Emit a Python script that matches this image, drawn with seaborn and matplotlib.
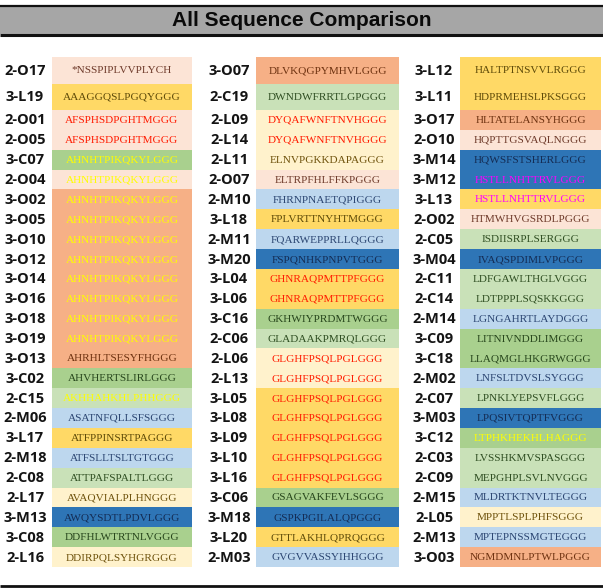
import numpy as np
import pandas as pd
import matplotlib
matplotlib.use("Agg")
import matplotlib.pyplot as plt
import seaborn as sns
from matplotlib.patches import Rectangle

# ---------------- data ----------------
col1_labels = ["2-O17", "3-L19", "2-O01", "2-O05", "3-C07", "2-O04", "3-O02", "3-O05", "3-O10",
               "3-O12", "3-O14", "3-O16", "3-O18", "3-O19", "3-O13", "3-C02", "2-C15", "2-M06",
               "3-L17", "2-M18", "2-C08", "2-L17", "3-M13", "3-C08", "2-L16"]
col1_seqs = ["*NSSPIPLVVPLYCH", "AAAGGQSLPGQYGGG", "AFSPHSDPGHTMGGG", "AFSPHSDPGHTMGGG",
             "AHNHTPIKQKYLGGG", "AHNHTPIKQKYLGGG", "AHNHTPIKQKYLGGG", "AHNHTPIKQKYLGGG",
             "AHNHTPIKQKYLGGG", "AHNHTPIKQKYLGGG", "AHNHTPIKQKYLGGG", "AHNHTPIKQKYLGGG",
             "AHNHTPIKQKYLGGG", "AHNHTPIKQKYLGGG", "AHRHLTSESYFHGGG", "AHVHERTSLIRLGGG",
             "AKHHAHKHLPHHGGG", "ASATNFQLLSFSGGG", "ATFPPINSRTPAGGG", "ATFSLLTSLTGTGGG",
             "ATTPAFSPALTLGGG", "AVAQVIALPLHNGGG", "AWQYSDTLPDVLGGG", "DDFHLWTRTNLVGGG",
             "DDIRPQLSYHGRGGG"]
col1_marks = ["n", "n", "r", "r", "y", "y", "y", "y", "y", "y", "y", "y", "y", "y", "n", "n",
              "y", "n", "n", "n", "n", "n", "n", "n", "n"]

col2_labels = ["3-O07", "2-C19", "2-L09", "2-L14", "2-L11", "2-O07", "2-M10", "3-L18", "2-M11",
               "3-M20", "3-L04", "3-L06", "3-C16", "2-C06", "2-L06", "2-L13", "3-L05", "3-L08",
               "3-L09", "3-L10", "3-L16", "3-C06", "3-M18", "3-L20", "2-M03"]
col2_seqs = ["DLVKQGPYMHVLGGG", "DWNDWFRRTLGPGGG", "DYQAFWNFTNVHGGG", "DYQAFWNFTNVHGGG",
             "ELNVPGKKDAPAGGG", "ELTRPFHLFFKPGGG", "FHRNPNAETQPIGGG", "FPLVRTTNYHTMGGG",
             "FQARWEPPRLLQGGG", "FSPQNHKPNPVTGGG", "GHNRAQPMTTPFGGG", "GHNRAQPMTTPFGGG",
             "GKHWIYPRDMTWGGG", "GLADAAKPMRQLGGG", "GLGHFPSQLPGLGGG", "GLGHFPSQLPGLGGG",
             "GLGHFPSQLPGLGGG", "GLGHFPSQLPGLGGG", "GLGHFPSQLPGLGGG", "GLGHFPSQLPGLGGG",
             "GLGHFPSQLPGLGGG", "GSAGVAKFEVLSGGG", "GSPKPGILALQPGGG", "GTTLAKHLQPRQGGG",
             "GVGVVASSYIHHGGG"]
col2_marks = ["n", "n", "r", "r", "n", "n", "n", "n", "n", "n", "r", "r", "n", "n", "r", "r",
              "r", "r", "r", "r", "r", "n", "n", "n", "n"]

col3_labels = ["3-L12", "3-L11", "3-O17", "2-O10", "3-M14", "3-M12", "3-L13", "2-O02", "2-C05",
               "3-M04", "2-C11", "2-C14", "2-M14", "3-C09", "3-C18", "2-M02", "2-C07", "3-M03",
               "3-C12", "2-C03", "2-C09", "2-M15", "2-L05", "2-M13", "3-O03"]
col3_seqs = ["HALTPTNSVVLRGGG", "HDPRMEHSLPKSGGG", "HLTATELANSYHGGG", "HQPTTGSVAQLNGGG",
             "HQWSFSTSHERLGGG", "HSTLLNHTTRVLGGG", "HSTLLNHTTRVLGGG", "HTMWHVGSRDLPGGG",
             "ISDIISRPLSERGGG", "IVAQSPDIMLVPGGG", "LDFGAWLTHGLVGGG", "LDTPPPLSQSKKGGG",
             "LGNGAHRTLAYDGGG", "LITNIVNDDLIMGGG", "LLAQMGLHKGRWGGG", "LNFSLTDVSLSYGGG",
             "LPNKLYEPSVFLGGG", "LPQSIVTQPTFVGGG", "LTPHKHEKHLHAGGG", "LVSSHKMVSPASGGG",
             "MEPGHPLSVLNVGGG", "MLDRTKTNVLTEGGG", "MPPTLSPLPHFSGGG", "MPTEPNSSMGTEGGG",
             "NGMDMNLPTWLPGGG"]
col3_marks = ["n", "n", "n", "n", "n", "m", "m", "n", "n", "n", "n", "n", "n", "n", "n", "n",
              "n", "n", "y", "n", "n", "n", "n", "n", "n"]

title = "All Sequence Comparison"

# ---------------- styles ----------------
fill = {"2-O": "#FCE4D6", "3-O": "#F6B086", "2-L": "#FFF2CC", "3-L": "#FFD966",
        "2-C": "#C9E1B8", "3-C": "#A9D08E", "2-M": "#BDD7EE", "3-M": "#2E75B6"}
ink = {"2-O": "#6E3A2A", "3-O": "#6E3210", "2-L": "#6E520C", "3-L": "#5E4A08",
       "2-C": "#2F4E22", "3-C": "#27461C", "2-M": "#2C4672", "3-M": "#142C54"}
mark_col = {"r": "#FF1A00", "y": "#FFFF00", "m": "#FF00FF"}

sns.set_theme(style="white")
plt.rcParams["font.family"] = ["DejaVu Sans"]

W, H = 603, 588
fig = plt.figure(figsize=(W / 100, H / 100), dpi=100)
fig.patch.set_facecolor("white")

# overlay axes in pixel units
ov = fig.add_axes([0, 0, 1, 1])
ov.set_xlim(0, W)
ov.set_ylim(H, 0)
ov.axis("off")
ov.add_patch(Rectangle((0, 7), W, 26.5, facecolor="#A6A6A6", edgecolor="none"))
ov.plot([0, W], [6.0, 6.0], color="#111111", lw=1.6, solid_capstyle="butt")
ov.plot([0, W], [34.5, 34.5], color="#111111", lw=2.2, solid_capstyle="butt")
ov.plot([0, W], [585.5, 585.5], color="#111111", lw=2.0, solid_capstyle="butt")
ov.text(W / 2, 21, title, ha="center", va="center", fontsize=15, fontweight="bold",
        family=["Liberation Sans", "DejaVu Sans"], color="#0a0a0a")

# row layout (pixels)
row_h = np.array([26.5, 26.5] + [19.87] * 23)
tops = 57 + np.concatenate([[0], np.cumsum(row_h)[:-1]])
centers = tops + row_h / 2
y_top, y_bot = 57, 57 + row_h.sum()

columns = [
    (col1_labels, col1_seqs, col1_marks, 52, 192, 25),
    (col2_labels, col2_seqs, col2_marks, 256, 399, 229),
    (col3_labels, col3_seqs, col3_marks, 460, 601, 434),
]

for labels, seqs, marks, x0, x1, lx in columns:
    df = pd.DataFrame({"label": labels, "seq": seqs, "mark": marks,
                       "group": [l[:3] for l in labels], "y": centers, "span": 1.0})
    ax = fig.add_axes([x0 / W, 1 - y_bot / H, (x1 - x0) / W, (y_bot - y_top) / H])
    for part in (df.iloc[:2], df.iloc[2:]):
        sns.barplot(data=part, x="span", y="y", hue="group", palette=fill, orient="h",
                    native_scale=True, dodge=False, width=1.0, saturation=1, linewidth=0,
                    errorbar=None, legend=False, ax=ax)
    ax.set_xlim(0, 1)
    ax.set_ylim(y_bot, y_top)
    ax.axis("off")
    for _, r in df.iterrows():
        col = mark_col.get(r["mark"], ink[r["group"]])
        ax.text(0.5, r["y"] + 0.5, r["seq"], ha="center", va="center", fontsize=8.1,
                family=["Liberation Serif", "DejaVu Serif"], color=col)
        ov.text(lx, r["y"] + 0.5, r["label"], ha="center", va="center", fontsize=10.5,
                fontweight="bold", family=["Open Sans", "Liberation Sans", "DejaVu Sans"],
                color="#141414")

fig.savefig("out.png", dpi=100, facecolor="white")
